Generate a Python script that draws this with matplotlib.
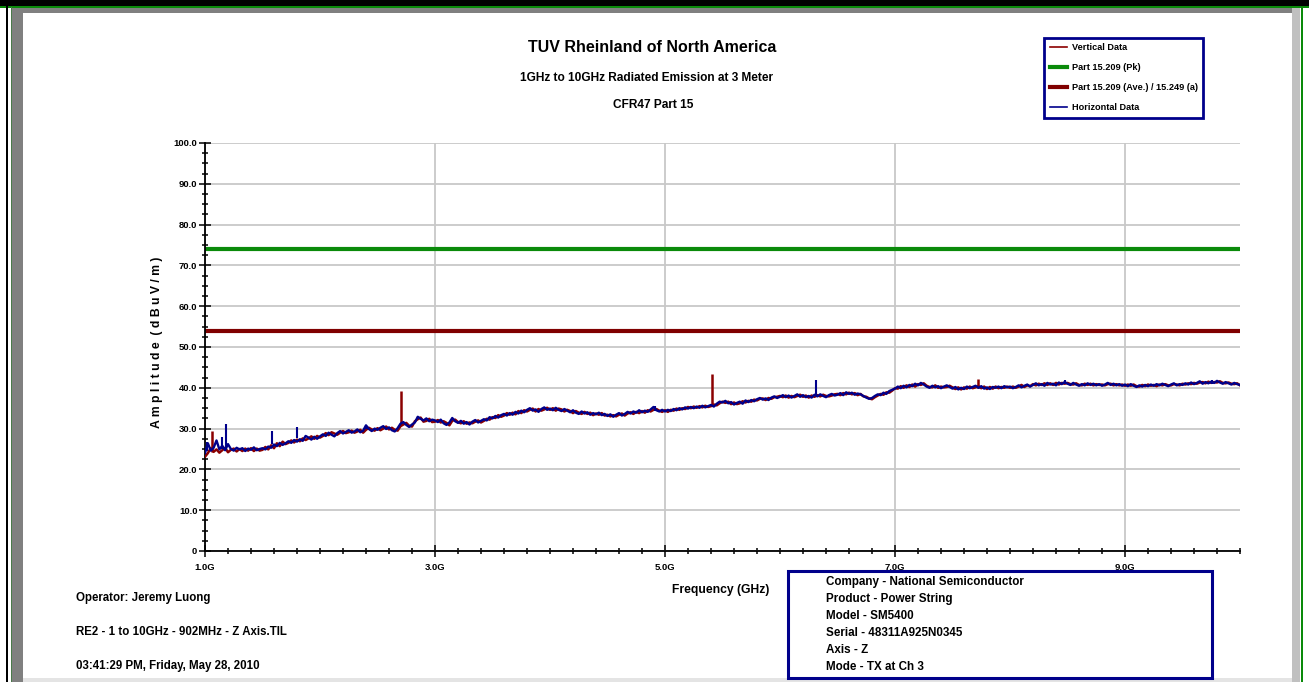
import numpy as np
import matplotlib.pyplot as plt
from matplotlib.patches import Rectangle
from matplotlib.ticker import MultipleLocator, FixedLocator, FixedFormatter

# sweep grid (GHz), 25 MHz steps
freq = np.arange(1.0, 10.0001, 0.025)

# horizontal polarisation trace (dBuV/m), one row per 0.5 GHz
horiz = [
    24.0, 26.4, 24.6, 25.3, 27.1, 24.9, 25.8, 24.7, 26.2, 25.0, 24.6, 25.3, 24.9, 25.2, 24.5, 25.1, 24.8, 25.4, 24.7, 25.0,
    25.2, 24.9, 25.6, 25.3, 26.1, 25.7, 26.5, 26.0, 26.4, 26.9, 26.5, 27.2, 26.8, 27.4, 27.0, 28.2, 27.8, 27.3, 28.0, 27.5,
    28.1, 28.6, 28.2, 29.0, 28.5, 28.1, 28.9, 29.4, 28.8, 29.2, 29.6, 29.0, 29.3, 29.8, 29.1, 29.5, 30.8, 29.9, 29.4, 30.0,
    29.7, 30.2, 30.6, 29.9, 30.3, 29.6, 29.3, 30.1, 31.2, 31.6, 30.9, 30.4, 31.0, 31.5, 32.9, 32.4, 32.0, 32.5, 31.8, 32.2,
    32.0, 31.6, 32.2, 31.3, 30.9, 31.5, 32.6, 31.8, 31.4, 31.9, 31.2, 31.6, 31.0, 31.7, 32.1, 31.5, 31.9, 32.3, 32.0, 32.8,
    32.5, 33.1, 32.7, 33.3, 33.6, 33.2, 33.8, 33.4, 34.1, 33.7, 34.4, 34.0, 34.6, 35.0, 34.4, 34.7, 34.1, 34.8, 35.2, 34.6,
    34.9, 34.5, 35.1, 34.6, 34.3, 34.8, 34.4, 34.0, 34.5, 33.9, 33.6, 34.2, 33.7, 34.0, 33.4, 33.8, 33.5, 33.9, 33.3, 33.6,
    33.1, 33.5, 32.9, 33.4, 33.8, 33.2, 33.6, 34.1, 33.7, 34.2, 33.9, 34.5, 34.0, 34.4, 34.1, 34.7, 35.3, 34.5, 34.2, 34.6,
    34.2, 34.6, 34.3, 34.8, 34.5, 35.0, 34.7, 35.2, 34.9, 35.3, 35.0, 35.4, 35.1, 35.6, 35.2, 35.5, 35.8, 35.4, 36.1, 36.6,
    36.4, 36.8, 36.2, 36.5, 35.9, 36.3, 36.6, 36.1, 36.9, 36.5, 37.0, 36.7, 37.2, 37.5, 37.1, 37.4, 37.0, 37.6, 37.9, 37.5,
    37.8, 38.2, 37.7, 38.1, 37.6, 38.0, 38.4, 37.8, 38.2, 37.7, 38.0, 37.6, 38.3, 37.9, 38.4, 38.0, 37.7, 38.2, 38.5, 38.1,
    38.3, 38.7, 38.2, 38.9, 38.5, 38.8, 38.3, 38.6, 38.4, 38.0, 37.6, 37.3, 37.5, 38.0, 38.4, 38.2, 38.8, 38.5, 39.2, 39.5,
    39.8, 40.3, 39.9, 40.5, 40.1, 40.7, 40.4, 41.0, 40.6, 41.2, 40.8, 40.3, 40.0, 40.5, 40.1, 40.4, 39.9, 40.3, 40.6, 40.2,
    39.8, 40.2, 39.6, 40.0, 39.7, 40.3, 39.9, 40.2, 40.5, 40.0, 40.4, 39.8, 40.1, 39.7, 40.2, 40.0, 40.3, 39.9, 40.4, 40.1,
    40.3, 39.9, 40.2, 40.6, 40.1, 40.5, 40.8, 40.3, 40.7, 41.1, 40.6, 40.9, 40.5, 41.2, 40.8, 41.0, 40.6, 41.3, 40.9, 41.4,
    41.0, 40.7, 41.2, 40.8, 40.5, 40.9, 40.6, 41.1, 40.7, 41.0, 40.6, 40.9, 40.5, 40.8, 41.2, 40.7, 41.0, 40.6, 40.9, 40.5,
    40.8, 40.4, 40.9, 40.5, 40.2, 40.6, 40.3, 40.7, 40.4, 40.8, 40.5, 40.9, 40.6, 41.0, 40.7, 40.4, 40.8, 41.1, 40.6, 40.9,
    40.7, 41.1, 40.8, 41.3, 40.9, 41.2, 41.6, 41.0, 41.4, 41.1, 41.5, 41.2, 41.7, 41.3, 41.0, 41.4, 41.1, 40.8, 41.2, 40.9,
    40.7,
]

# vertical polarisation trace (dBuV/m), one row per 0.5 GHz
vert = [
    23.1, 24.0, 25.2, 24.3, 24.9, 24.1, 24.7, 25.3, 24.2, 24.8, 25.1, 24.4, 25.0, 24.5, 25.1, 24.6, 25.2, 24.5, 25.1, 24.6,
    24.8, 25.5, 24.9, 25.9, 25.2, 26.4, 25.7, 26.8, 26.2, 26.5, 27.1, 26.6, 27.3, 26.9, 27.6, 27.2, 27.6, 28.1, 27.5, 28.2,
    27.8, 28.2, 28.9, 28.4, 29.1, 28.8, 28.5, 29.0, 29.4, 28.9, 29.1, 29.5, 29.0, 29.3, 29.7, 29.0, 29.7, 30.2, 29.8, 29.5,
    30.1, 29.6, 30.0, 30.5, 29.8, 30.2, 29.7, 29.5, 30.6, 31.0, 31.4, 30.7, 30.5, 31.8, 32.3, 32.7, 31.7, 31.9, 32.4, 31.6,
    31.7, 32.1, 31.5, 31.8, 31.4, 30.8, 31.9, 32.2, 31.6, 31.3, 31.8, 31.2, 31.5, 31.3, 31.7, 32.0, 31.5, 31.9, 32.4, 32.2,
    32.8, 32.6, 33.3, 32.9, 33.2, 33.8, 33.4, 33.9, 33.5, 34.3, 33.8, 34.5, 34.2, 34.6, 34.9, 34.2, 34.8, 34.4, 34.7, 35.1,
    34.6, 35.0, 34.4, 34.9, 34.7, 34.2, 34.6, 34.3, 33.8, 34.3, 33.9, 33.6, 34.1, 33.6, 33.9, 33.3, 33.7, 33.4, 33.8, 33.2,
    33.4, 33.0, 33.3, 33.0, 33.4, 33.7, 33.2, 33.7, 34.0, 33.6, 34.1, 33.8, 34.3, 33.9, 34.5, 34.2, 34.6, 34.8, 34.4, 34.1,
    34.5, 34.1, 34.6, 34.4, 34.9, 34.6, 35.0, 34.8, 35.3, 35.0, 35.4, 35.1, 35.5, 35.2, 35.6, 35.3, 35.5, 35.9, 35.7, 36.2,
    36.6, 36.3, 36.6, 36.0, 36.4, 36.0, 36.2, 36.7, 36.4, 36.8, 36.6, 37.1, 36.9, 37.3, 37.4, 37.0, 37.5, 37.3, 37.7, 37.8,
    38.0, 37.7, 38.1, 37.6, 38.0, 37.7, 38.0, 38.3, 37.8, 38.1, 37.6, 38.1, 37.8, 38.2, 37.9, 38.3, 38.0, 37.9, 38.1, 38.4,
    38.5, 38.2, 38.7, 38.4, 38.8, 38.4, 38.7, 38.2, 38.5, 37.9, 37.8, 37.4, 37.2, 37.7, 38.1, 38.5, 38.3, 38.9, 38.8, 39.3,
    39.9, 39.8, 40.4, 40.0, 40.6, 40.2, 40.8, 40.3, 40.9, 40.7, 41.1, 40.5, 40.2, 40.1, 40.6, 40.0, 40.3, 40.1, 40.2, 40.5,
    40.1, 39.7, 40.1, 39.6, 40.1, 39.8, 40.3, 39.9, 40.1, 40.4, 39.9, 40.3, 39.7, 40.2, 39.8, 40.3, 39.9, 40.2, 40.0, 40.3,
    40.0, 40.3, 40.0, 40.3, 40.7, 40.2, 40.6, 40.4, 40.9, 40.6, 41.0, 40.7, 41.1, 40.7, 41.1, 40.7, 41.2, 40.8, 41.2, 41.0,
    41.2, 40.9, 40.8, 41.1, 40.7, 40.6, 41.0, 40.7, 41.0, 40.6, 40.9, 40.7, 40.8, 40.6, 40.9, 41.0, 40.6, 40.9, 40.6, 40.8,
    40.5, 40.8, 40.5, 40.8, 40.4, 40.3, 40.7, 40.4, 40.8, 40.5, 40.7, 40.4, 40.8, 40.6, 40.9, 40.6, 40.6, 40.9, 40.8, 40.6,
    41.0, 40.8, 41.1, 40.9, 41.2, 41.0, 41.3, 41.4, 41.1, 41.5, 41.2, 41.4, 41.3, 41.6, 41.2, 41.1, 41.3, 41.0, 40.9, 41.1,
    40.6,
]

# narrow spurious peaks: frequency, floor, top
h_spike_freq = [1.02, 1.15, 1.18, 1.58, 1.80, 2.40, 4.91, 6.31, 8.48, 9.76]
h_spike_low = [24.5, 25.0, 25.0, 26.3, 27.6, 29.8, 34.3, 38.0, 41.0, 41.0]
h_spike_high = [26.8, 28.0, 31.2, 29.3, 30.5, 31.0, 35.5, 41.9, 41.9, 42.0]
v_spike_freq = [1.06, 2.70, 5.41, 7.72]
v_spike_low = [24.3, 31.0, 35.6, 40.0]
v_spike_high = [29.5, 39.1, 43.5, 42.1]

# limits
limit_pk = 74.0
limit_avg = 54.0

info_lines = ["Company - National Semiconductor", "Product - Power String",
              "Model - SM5400", "Serial - 48311A925N0345", "Axis - Z",
              "Mode - TX at Ch 3"]
footer_lines = ["Operator: Jeremy Luong", "RE2 - 1 to 10GHz - 902MHz - Z Axis.TIL",
                "03:41:29 PM, Friday, May 28, 2010"]

RED = "#8b0000"
NAVY = "#00008b"
GREEN = "#0a8a0a"
SANS = ["Liberation Sans", "DejaVu Sans"]

W, H = 1309, 682
fig = plt.figure(figsize=(W / 100, H / 100), dpi=100)


def fx(px):
    return px / W


def fy(py):
    return 1 - py / H


def box(x0, y0, x1, y1, **kw):
    fig.patches.append(Rectangle((fx(x0), fy(y1)), fx(x1) - fx(x0), fy(y0) - fy(y1),
                                 transform=fig.transFigure, **kw))


# window frame
box(0, 0, W, 7, facecolor="black", edgecolor="none", zorder=0)
box(0, 6, W, 7.5, facecolor=GREEN, edgecolor="none", zorder=1)
box(6, 0, 8, H, facecolor="black", edgecolor="none", zorder=1)
box(10.5, 7, 12, H, facecolor="#4a7a4a", edgecolor="none", zorder=1)
box(12, 7.5, 23, H, facecolor="#808080", edgecolor="none", zorder=1)
box(12, 7.5, 1292, 12.5, facecolor="#808080", edgecolor="none", zorder=1)
box(1292, 7.5, 1300, H, facecolor="#c0c0c0", edgecolor="none", zorder=1)
box(1300.5, 7, 1302.5, H, facecolor=GREEN, edgecolor="none", zorder=1)
box(23, 678, 1292, H, facecolor="#e4e4e4", edgecolor="none", zorder=1)

ax = fig.add_axes([fx(205), fy(551), fx(1240) - fx(205), fy(143) - fy(551)])

ax.plot(freq, vert, color=RED, lw=1.8, label="Vertical Data", zorder=3)
ax.vlines(v_spike_freq, v_spike_low, v_spike_high, color=RED, lw=1.8, zorder=3)
ax.axhline(limit_pk, color=GREEN, lw=3, label="Part 15.209 (Pk)", zorder=2)
ax.axhline(limit_avg, color="#800000", lw=3, label="Part 15.209 (Ave.) / 15.249 (a)", zorder=2)
ax.plot(freq, horiz, color=NAVY, lw=1.7, label="Horizontal Data", zorder=4)
ax.vlines(h_spike_freq, h_spike_low, h_spike_high, color=NAVY, lw=1.5, zorder=4)

ax.set_xlim(1.0, 10.0)
ax.set_ylim(0, 100)
ax.spines["top"].set_visible(False)
ax.spines["right"].set_visible(False)
for s in ("left", "bottom"):
    ax.spines[s].set_linewidth(1.3)

ax.xaxis.set_major_locator(FixedLocator([1, 3, 5, 7, 9]))
ax.xaxis.set_major_formatter(FixedFormatter(["1.0G", "3.0G", "5.0G", "7.0G", "9.0G"]))
ax.xaxis.set_minor_locator(MultipleLocator(0.2))
ax.yaxis.set_major_locator(MultipleLocator(10))
ax.yaxis.set_major_formatter(plt.FuncFormatter(lambda v, p: "0" if v == 0 else "%.1f" % v))
ax.yaxis.set_minor_locator(MultipleLocator(2.5))
ax.tick_params(which="major", direction="inout", length=8, width=1.1, color="black")
ax.tick_params(which="minor", direction="inout", length=5, width=1.1, color="black")
ax.tick_params(axis="x", which="major", pad=5)
ax.tick_params(axis="y", which="major", pad=1.5)
for lab in ax.get_xticklabels() + ax.get_yticklabels():
    lab.set_family(SANS)
    lab.set_fontweight("bold")
    lab.set_fontsize(6.8)

ax.grid(True, which="major", color="#c8c8c8", lw=1.3, zorder=0)
ax.set_axisbelow(True)

leg = fig.legend(loc="upper left", bbox_to_anchor=(fx(1044), fy(38)),
                 prop={"family": SANS, "weight": "bold", "size": 6.6},
                 frameon=True, fancybox=False, edgecolor=NAVY, framealpha=1,
                 handlelength=1.9, handletextpad=0.5, labelspacing=1.2,
                 borderpad=0.6, borderaxespad=0)
leg.get_frame().set_linewidth(2)
for h in leg.get_lines():
    if h.get_linewidth() < 2:
        h.set_linewidth(1.2)

# titles
fig.text(fx(652), fy(48), "TUV Rheinland of North America", ha="center", va="center",
         family=SANS, weight="bold", fontsize=11.5)
fig.text(fx(646), fy(78), "1GHz to 10GHz Radiated Emission at 3 Meter", ha="center",
         va="center", family=SANS, weight="bold", fontsize=8.6)
fig.text(fx(653), fy(105), "CFR47 Part 15", ha="center", va="center",
         family=SANS, weight="bold", fontsize=8.6)

fig.text(fx(157), fy(342), "A m p l i t u d e  ( d B u V / m )", rotation=90,
         ha="center", va="center", family=SANS, weight="bold", fontsize=8.8)
fig.text(fx(721), fy(590), "Frequency (GHz)", ha="center", va="center",
         family=SANS, weight="bold", fontsize=8.7)

for i, t in enumerate(footer_lines):
    fig.text(fx(76), fy(598 + 34 * i), t, ha="left", va="center",
             family=SANS, weight="bold", fontsize=8.3)

# device info box
for i, t in enumerate(info_lines):
    fig.text(fx(826), fy(582 + 17 * i), t, ha="left", va="center",
             family=SANS, weight="bold", fontsize=8.4, zorder=5)
box(788, 571, 1212, 678, facecolor="none", edgecolor=NAVY, lw=2.2, zorder=6)

fig.savefig("out.png", dpi=100)
